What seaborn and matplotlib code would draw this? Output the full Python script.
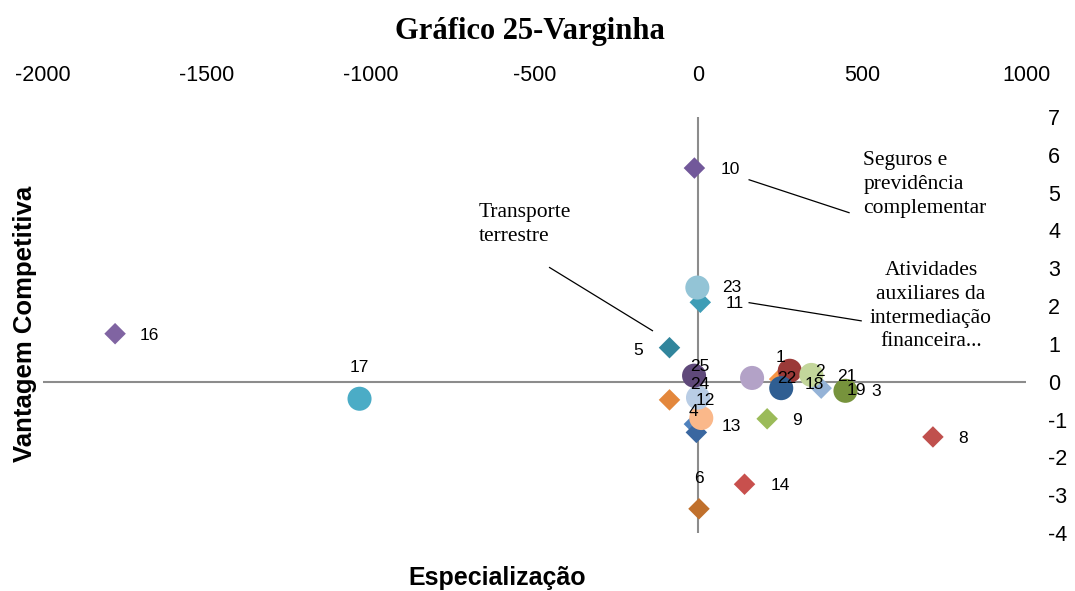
import pandas as pd
import matplotlib.pyplot as plt
import seaborn as sns

# Dados do gráfico (Especialização x Vantagem Competitiva)
labels = ['1', '2', '3', '4', '5', '6', '', '8', '9', '10', '11', '12', '13',
          '14', '16', '17', '18', '19', '21', '22', '23', '24', '25']
especializacao = [279, 253, 449, -12, -88, 2, -6, 716, 210, -12, 6, -88, 9,
                  141, -1780, -1034, 248, 375, 345, 164, -3, -1, -13]
vantagem = [0.29, -0.17, -0.24, -1.12, 0.90, -3.36, -1.34, -1.46, -0.98, 5.65, 2.10, -0.48, -0.96,
            -2.71, 1.27, -0.45, 0.07, -0.17, 0.18, 0.10, 2.49, -0.42, 0.16]
forma = ['o', 'o', 'o', 'D', 'D', 'D', 'D', 'D', 'D', 'D', 'D', 'D', 'o',
         'D', 'D', 'o', 'D', 'D', 'o', 'o', 'o', 'o', 'o']

# estilos
cores = ['#9B3A38', '#2F5E92', '#77933C', '#4F81BD', '#31859C', '#C0702C', '#3A67A0', '#C0504D',
         '#9BBB59', '#72589A', '#3E9DB6', '#E3873C', '#FAB88A', '#C8504D', '#8064A2', '#4BACC6',
         '#F79646', '#95B3D7', '#C3D69B', '#B3A2C7', '#93C4D6', '#B9CDE5', '#5F497A']
# deslocamento dos rótulos (pixels, x para direita, y para baixo)
desloc = [(-9, -13), (39, -17), (31, 1), (-1, -13), (-31, 3), (0, -30), (0, 0), (30, 2),
          (30, 2), (36, 1), (34, 1), (36, 1), (30, 8), (36, 1), (34, 2), (0, -31),
          (35, 5), (35, 2), (35, 2), (35, 1), (34, 0), (2, -13), (6, -9)]

df = pd.DataFrame({'label': labels, 'x': especializacao, 'y': vantagem, 'forma': forma})
paleta = dict(zip(labels, cores))

plt.rcParams['axes.unicode_minus'] = False

fig = plt.figure(figsize=(10.75, 5.91), dpi=100)
ax = fig.add_axes([43 / 1075, 58 / 591, 983 / 1075, 416 / 591])

ax.axhline(0, color='#8C8C8C', lw=1.5, zorder=1)
ax.axvline(0, color='#8C8C8C', lw=1.5, zorder=1)

sns.scatterplot(data=df[df['forma'] == 'D'], x='x', y='y', hue='label', palette=paleta,
                marker='D', s=120, edgecolor='none', legend=False, ax=ax, zorder=3)
sns.scatterplot(data=df[df['forma'] == 'o'], x='x', y='y', hue='label', palette=paleta,
                marker='o', s=300, edgecolor='none', legend=False, ax=ax, zorder=3)

for lab, x, y, (dx, dy) in zip(labels, especializacao, vantagem, desloc):
    if lab:
        ax.annotate(lab, (x, y), xytext=(dx, -dy), textcoords='offset pixels',
                    ha='center', va='center', fontsize=12.5, family='Liberation Sans', zorder=4)

ax.set_xlim(-2000, 1000)
ax.set_ylim(-4, 7)
ax.set_xticks(range(-2000, 1001, 500))
ax.set_yticks(range(-4, 8))
ax.xaxis.tick_top()
ax.yaxis.tick_right()
ax.tick_params(length=0, labelsize=15.5)
ax.tick_params(axis='x', pad=22)
ax.tick_params(axis='y', pad=16)
for t in ax.get_xticklabels() + ax.get_yticklabels():
    t.set_family('Liberation Sans')
for s in ax.spines.values():
    s.set_visible(False)
ax.set_xlabel('')
ax.set_ylabel('')

# textos explicativos
serif = dict(family='Liberation Serif', fontsize=15.5, linespacing=1.35)
ax.text(503, 6.1, 'Seguros e\nprevidência\ncomplementar', ha='left', va='top', **serif)
ax.plot([155, 460], [5.34, 4.47], color='black', lw=0.9)
ax.text(-671, 4.72, 'Transporte\nterrestre', ha='left', va='top', **serif)
ax.plot([-454, -140], [3.02, 1.35], color='black', lw=0.9)
ax.text(710, 3.2, 'Atividades\nauxiliares da\nintermediação\nfinanceira...', ha='center',
        va='top', multialignment='center', **serif)
ax.plot([155, 497], [2.09, 1.61], color='black', lw=0.9)

fig.text(530 / 1075, 1 - 31 / 591, 'Gráfico 25-Varginha', ha='center', va='center',
         family='Liberation Serif', fontweight='bold', fontsize=22)
fig.text(25 / 1075, 1 - 324 / 591, 'Vantagem Competitiva', rotation=90, ha='center',
         va='center', family='Liberation Sans', fontweight='bold', fontsize=18.5)
fig.text(497 / 1075, 1 - 578 / 591, 'Especialização', ha='center', va='center',
         family='Liberation Sans', fontweight='bold', fontsize=18)

plt.savefig('out.png', dpi=100)
